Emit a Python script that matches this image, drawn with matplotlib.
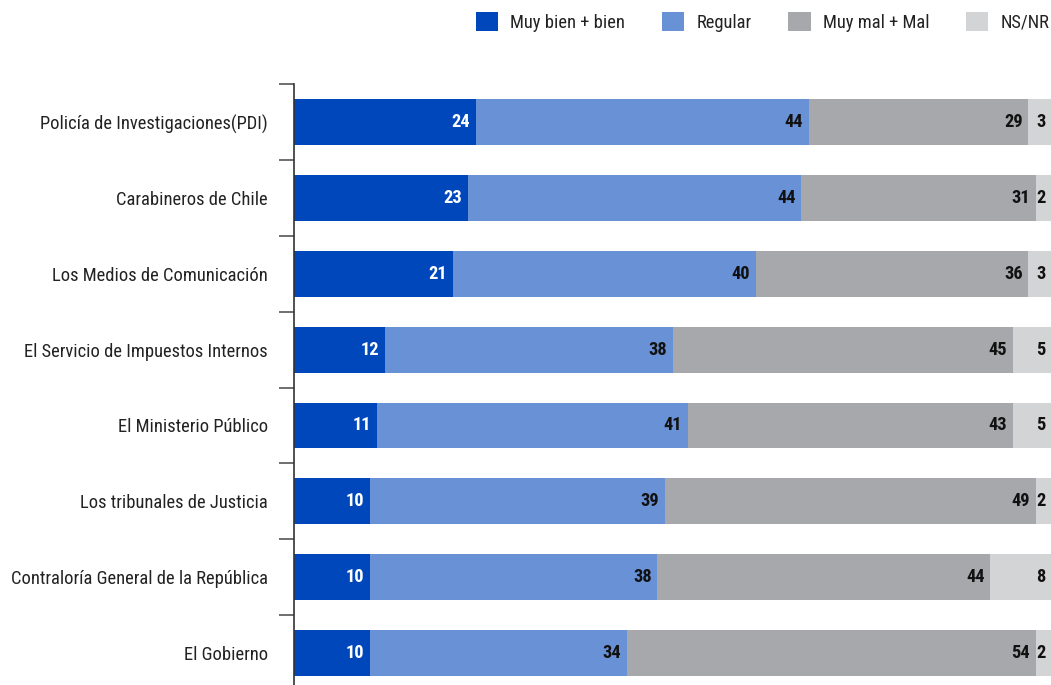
import matplotlib
matplotlib.use("Agg")
import matplotlib.pyplot as plt
from matplotlib.patches import Patch
import numpy as np

plt.rcParams['font.family'] = ['Roboto Condensed', 'DejaVu Sans']

categories = [
    "Policía de Investigaciones(PDI)",
    "Carabineros de Chile",
    "Los Medios de Comunicación",
    "El Servicio de Impuestos Internos",
    "El Ministerio Público",
    "Los tribunales de Justicia",
    "Contraloría General de la República",
    "El Gobierno",
]
muy_bien = [24, 23, 21, 12, 11, 10, 10, 10]
regular = [44, 44, 40, 38, 41, 39, 38, 34]
muy_mal = [29, 31, 36, 45, 43, 49, 44, 54]
ns_nr = [3, 2, 3, 5, 5, 2, 8, 2]
series_names = ["Muy bien + bien", "Regular", "Muy mal + Mal", "NS/NR"]

colors = ["#0047BB", "#6891D6", "#A7A8AB", "#D3D4D6"]
text_colors = ["white", "#111111", "#111111", "#111111"]

fig = plt.figure(figsize=(10.51, 6.85), dpi=100)
ax = fig.add_axes([294 / 1051, 0.0, 1 - 294 / 1051, 1 - 84 / 685])

y = np.arange(len(categories))
left = np.zeros(len(categories))
series = [muy_bien, regular, muy_mal, ns_nr]
for vals, col, tcol, name in zip(series, colors, text_colors, series_names):
    vals = np.array(vals, dtype=float)
    ax.barh(y, vals, left=left, height=0.605, color=col, label=name, edgecolor='none')
    for yi, (l, v) in enumerate(zip(left, vals)):
        ax.text(l + v - 0.75, yi, f"{int(v)}", ha='right', va='center',
                color=tcol, fontsize=13.2, fontweight='bold')
    left += vals

ax.set_xlim(0, 100)
ax.set_ylim(7.42, -0.5)

ax.set_yticks(y)
ax.set_yticklabels(categories, fontsize=13.3, color="#222222")
ax.tick_params(axis='y', which='major', length=0, pad=18.7)
ax.set_yticks(np.arange(-0.5, 7, 1.0), minor=True)
ax.tick_params(axis='y', which='minor', length=11, width=1.2, color="#555555")
ax.set_xticks([])
for s in ['top', 'right', 'bottom']:
    ax.spines[s].set_visible(False)
ax.spines['left'].set_color("#333333")
ax.spines['left'].set_linewidth(1.2)

handles = [Patch(facecolor=c, edgecolor='none') for c in colors]
fig.legend(handles, series_names, loc='upper right', bbox_to_anchor=(1.0, 1 - 10 / 685),
           ncol=4, frameon=False, fontsize=13.3, handlelength=1.2, handleheight=1.2,
           handletextpad=0.65, columnspacing=2.0, borderaxespad=0.0, borderpad=0.1,
           labelcolor="#222222")

fig.savefig("out.png", dpi=100)
